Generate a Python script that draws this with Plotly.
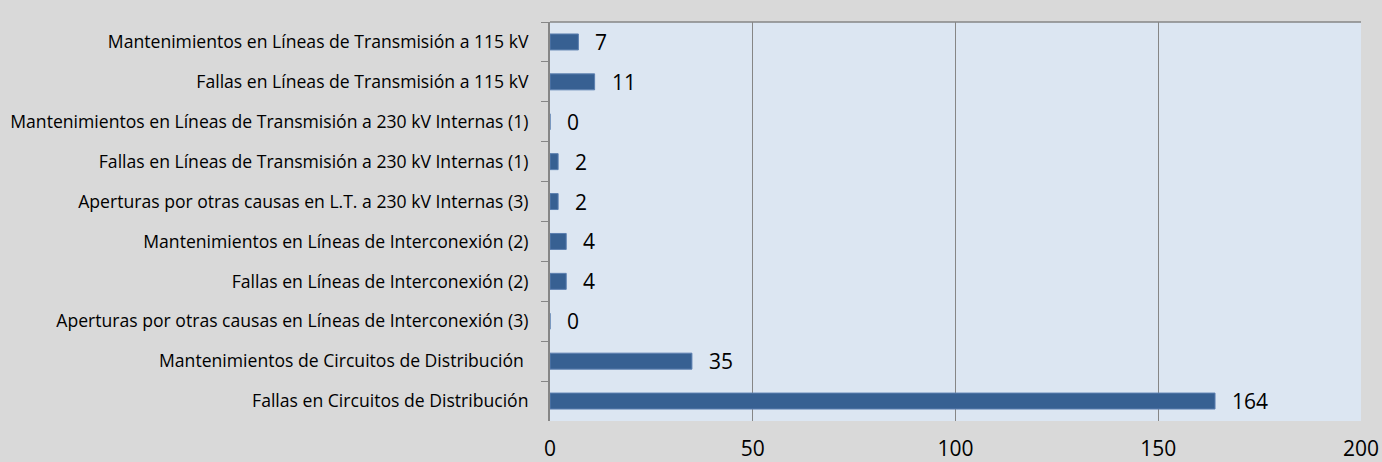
import plotly.graph_objects as go

categories = [
    "Mantenimientos en Líneas de Transmisión a 115 kV",
    "Fallas en Líneas de Transmisión a 115 kV",
    "Mantenimientos en Líneas de Transmisión a 230 kV Internas (1)",
    "Fallas en Líneas de Transmisión a 230 kV Internas (1)",
    "Aperturas por otras causas en L.T. a 230 kV Internas (3)",
    "Mantenimientos en Líneas de Interconexión (2)",
    "Fallas en Líneas de Interconexión (2)",
    "Aperturas por otras causas en Líneas de Interconexión (3)",
    "Mantenimientos de Circuitos de Distribución ",
    "Fallas en Circuitos de Distribución",
]
values = [7, 11, 0, 2, 2, 4, 4, 0, 35, 164]
x_ticks = [0, 50, 100, 150, 200]

FONT = "Open Sans"

fig = go.Figure()
fig.add_trace(go.Bar(
    y=categories, x=values, orientation="h",
    marker=dict(color="#376092", line=dict(color="#5b7fb0", width=1)),
    width=0.4,
))
for c, v in zip(categories, values):
    fig.add_annotation(x=v, y=c, text=str(v), showarrow=False, xanchor="left",
                       xshift=15, font=dict(family=FONT, size=21, color="#000000"))

fig.add_shape(type="line", xref="paper", yref="paper", x0=0, x1=1, y0=1, y1=1,
              line=dict(color="#868686", width=1.5))

fig.update_layout(
    width=1382, height=462,
    margin=dict(l=550, r=21, t=22, b=41),
    paper_bgcolor="#d9d9d9", plot_bgcolor="#dce6f2",
    showlegend=False, bargap=0.6,
    font=dict(family=FONT, color="#000000"),
)
fig.update_xaxes(range=[0, 200], tickvals=x_ticks, showgrid=True, gridcolor="#868686",
                 gridwidth=1, zeroline=False, showline=False, automargin=False,
                 tickfont=dict(family=FONT, size=21), ticks="", ticklabelstandoff=13)
fig.update_yaxes(autorange="reversed", tickson="boundaries", ticks="outside", ticklen=7,
                 tickcolor="#868686", showline=True, linecolor="#868686", linewidth=2,
                 showgrid=False, automargin=False,
                 tickfont=dict(family=FONT, size=17.6), ticklabelstandoff=16)

fig.write_html("out.html", config={"displayModeBar": False},
               post_script="document.body.style.margin='0';")
